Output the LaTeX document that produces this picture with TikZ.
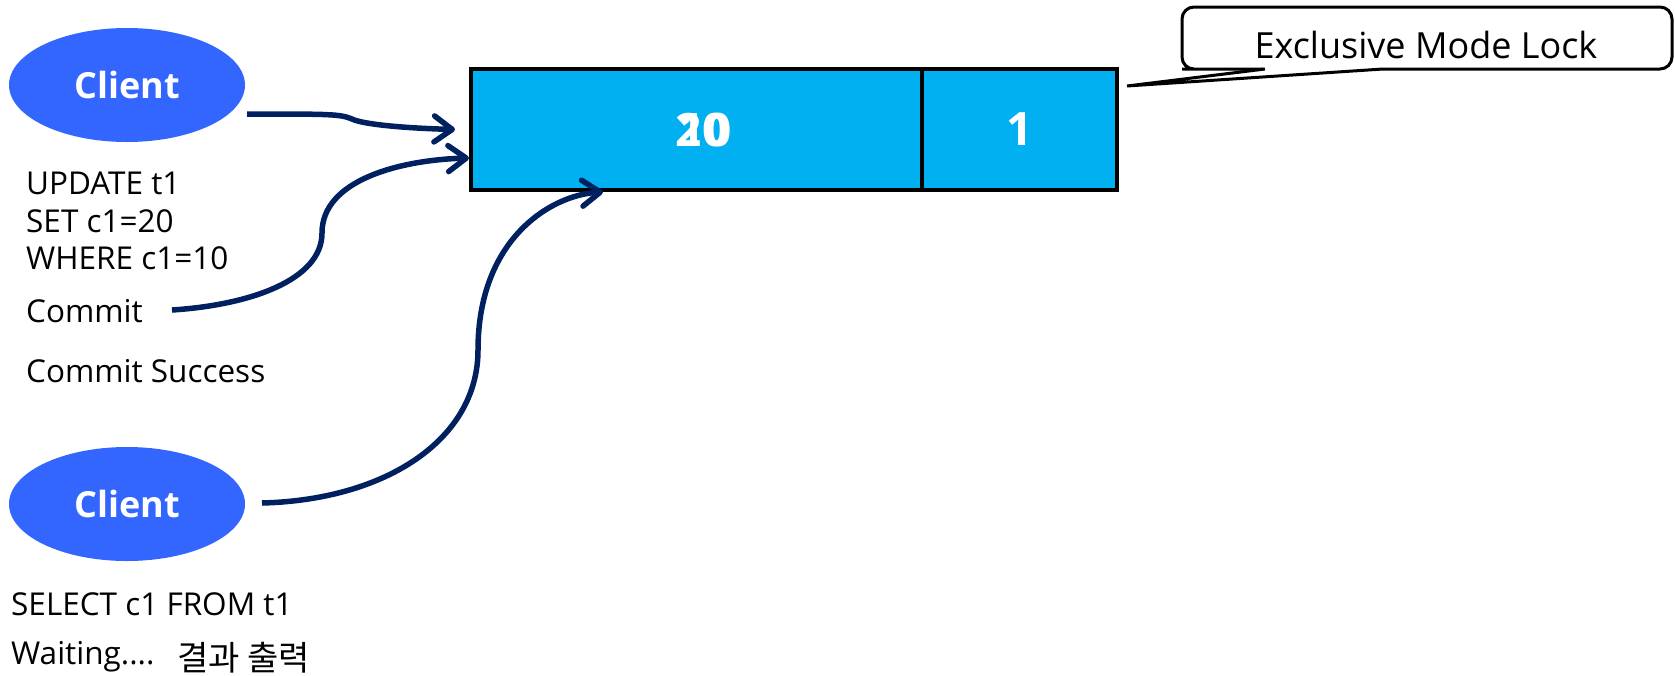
\documentclass[tikz,border=0pt]{standalone}
\usepackage{fontspec}
\setmainfont{Open Sans}
\newfontfamily\kr{Noto Sans CJK KR}
\usetikzlibrary{arrows.meta,shapes.geometric}
\definecolor{navy}{HTML}{002060}
\definecolor{cellblue}{HTML}{00B0F0}
\definecolor{clientblue}{HTML}{3366FF}
\begin{document}
\begin{tikzpicture}[x=1pt,y=-1pt,
  client/.style={ellipse,fill=clientblue,minimum width=236pt,minimum height=114pt,inner sep=0pt,
    text=white,font=\fontsize{36}{40}\selectfont\bfseries},
  cell/.style={rectangle,draw=black,line width=4pt,fill=cellblue,inner sep=0pt,
    text=white,font=\fontsize{46}{50}\selectfont\bfseries},
  lbl/.style={anchor=west,inner sep=0pt,align=left,font=\fontsize{31.5}{37.5}\selectfont},
  conn/.style={draw=navy,line width=5.5pt,-{Straight Barb[length=18pt,width=26pt,round]}}
]
\useasboundingbox (0,0) rectangle (1675,675);
% clients
\node[client] (c1) at (127,85) {Client};
\node[client] (c2) at (127,504) {Client};
% value cells
\node[cell,minimum width=451pt,minimum height=121pt] (val) at (696.5,129.5) {};
\node[cell,minimum width=195pt,minimum height=121pt] (cnt) at (1019.5,129.5) {1};
\node[text=white,font=\fontsize{46}{50}\selectfont\bfseries,inner sep=0pt] (v10) at (705,130) {10};
\node[text=white,font=\fontsize{46}{50}\selectfont\bfseries,inner sep=0pt] (v20) at (702,130) {20};
% texts
\node[lbl] (upd) at (26,221) {UPDATE t1\\SET c1=20\\WHERE c1=10};
\node[lbl] (com) at (26,311) {Commit};
\node[lbl] (cs) at (26,371) {Commit Success};
\node[lbl] (sel) at (11,604) {SELECT c1 FROM t1};
\node[lbl] (wait) at (11,657) {Waiting....};
\node[lbl,font=\fontsize{34}{40}\selectfont\kr] (res) at (177,658) {결과 출력};
% callout
\node[font=\fontsize{36}{40}\selectfont,inner sep=0pt] (lock) at (1426,45) {Exclusive Mode Lock};
\coordinate (tip) at (1127,86);
\draw[line width=3pt,rounded corners=12pt,line join=miter]
  (1263,69) -- (1194,69) -- (1182,69) -- (1182,7) -- (1672,7) -- (1672,69) -- (1383,69);
\draw[line width=3pt,line join=miter] (1265,69) -- (tip) -- (1383,69);
% connectors
\coordinate (s1) at (247,114);
\coordinate (s2) at (172,310);
\coordinate (s3) at (262,503);
\draw[conn] (s1) .. controls (330,114) and (340,114) .. (352,119)
  .. controls (362,124) and (400,128) .. ([xshift=-14pt]val.west);
\draw[conn] (s2) .. controls (250,305) and (322,280) .. (322,233)
  .. controls (322,180) and (400,160) .. ([yshift=-28.5pt]val.west);
\draw[conn] (s3) .. controls (385,500) and (478,440) .. (478,350)
  .. controls (478,240) and (550,195) .. ([xshift=134pt]val.south west);
\end{tikzpicture}
\end{document}
